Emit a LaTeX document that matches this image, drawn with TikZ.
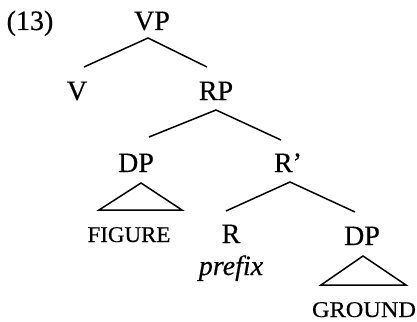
\documentclass[tikz,border=0pt]{standalone}
\usepackage{fontspec}
\setmainfont{Liberation Serif}[FakeBold=0.4]
\begin{document}
\begin{tikzpicture}[x=1pt,y=-1pt,
  lab/.style={anchor=base,inner sep=0pt,font=\fontsize{28}{30}\selectfont},
  caplab/.style={anchor=base,inner sep=0pt,font=\fontsize{22.5}{24}\selectfont},
  branch/.style={line width=1.5pt},
  tri/.style={line width=1.5pt,line join=miter}]
\useasboundingbox (0,0) rectangle (417,321);
% labels
\node[lab] (ex) at (30,30) {(13)};
\node[lab] (VP) at (152,30) {VP};
\node[lab] (V) at (77,100) {V};
\node[lab] (RP) at (216,100) {RP};
\node[lab] (DPa) at (136,172) {DP};
\node[lab] (Rbar) at (288,172) {R’};
\node[caplab] (FIG) at (129,242) {\scalebox{1.02}[1]{FIGURE}};
\node[lab] (R) at (231,243) {R};
\node[lab] (pre) at (231,275) {\itshape prefix};
\node[lab] (DPb) at (362,245) {DP};
\node[caplab] (GR) at (364,317) {\scalebox{1.08}[1]{GROUND}};
% attachment points
\coordinate (VPb) at (148,38);
\coordinate (Vt) at (84,67);
\coordinate (RPt) at (207,67);
\coordinate (RPb) at (216,110);
\coordinate (DPat) at (149,137);
\coordinate (Rbart) at (281,140);
\coordinate (Rbarb) at (290,182);
\coordinate (Rt) at (226,211);
\coordinate (DPbt) at (355,212);
% branches
\draw[branch] (Vt) -- (VPb) -- (RPt);
\draw[branch] (DPat) -- (RPb) -- (Rbart);
\draw[branch] (Rt) -- (Rbarb) -- (DPbt);
% triangles
\draw[tri] (141,183) coordinate (T1) -- (99,210) -- (182,210) -- cycle;
\draw[tri] (363,256) coordinate (T2) -- (321,285) -- (406,285) -- cycle;
\end{tikzpicture}
\end{document}
